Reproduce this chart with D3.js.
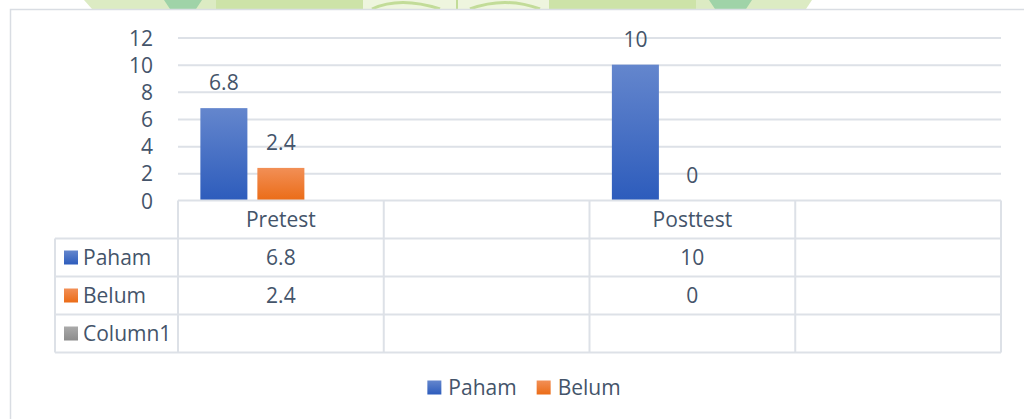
<!DOCTYPE html>
<html>
<head>
<meta charset="utf-8">
<script src="https://cdn.jsdelivr.net/npm/d3@7"></script>
<style>
  html, body { margin: 0; padding: 0; background: #fff; overflow: hidden; }
  svg { display: block; }
</style>
</head>
<body>
<svg id="chart" width="1024" height="419"></svg>
<script>
// data
var categories = ["Pretest", "", "Posttest", ""];
var seriesNames = ["Paham", "Belum", "Column1"];
var paham = [6.8, null, 10, null];
var belum = [2.4, null, 0, null];
var column1 = [null, null, null, null];
var yTicks = [0, 2, 4, 6, 8, 10, 12];

var seriesValues = [paham, belum, column1];
var colors = {
  Paham: ["#6486cd", "#2d5cbc"],
  Belum: ["#f28f56", "#eb6c17"],
  Column1: ["#aaaaaa", "#8c8c8c"]
};
var textColor = "#44546a";
var lineColor = "#dde1e7";
var font = "'Open Sans', 'Noto Sans', sans-serif";
var fontSize = 21;

var svg = d3.select("#chart");

// faint watermark peeking above the chart frame
var wm = svg.append("g");
wm.append("polygon").attr("points", "84,0 812,0 806,9 92,9").style("fill", "#dcebc3");
wm.append("rect").attr("x", 216).attr("y", 0).attr("width", 147).attr("height", 9).style("fill", "#cde3a8");
wm.append("rect").attr("x", 549).attr("y", 0).attr("width", 147).attr("height", 9).style("fill", "#cde3a8");
wm.append("rect").attr("x", 363).attr("y", 0).attr("width", 186).attr("height", 9).style("fill", "#eef5de");
wm.append("path").attr("d", "M372,9 Q400,-4 440,9 M470,9 Q505,-4 540,9").style("fill", "none").style("stroke", "#c2dc98").style("stroke-width", 3);
wm.append("rect").attr("x", 456).attr("y", 0).attr("width", 2).attr("height", 9).style("fill", "#c2dc98");
wm.append("polygon").attr("points", "164,0 202,0 196,9 170,9").style("fill", "#9fd3a8");
wm.append("polygon").attr("points", "709,0 752,0 746,9 715,9").style("fill", "#9fd3a8");

// chart frame
svg.append("rect")
  .attr("x", 10.5).attr("y", 9.5)
  .attr("width", 1030).attr("height", 430)
  .style("fill", "#fff").style("stroke", "#d9dde3").style("stroke-width", 1.5);

// gradients
var defs = svg.append("defs");
seriesNames.forEach(function(name) {
  var g = defs.append("linearGradient").attr("id", "grad-" + name)
    .attr("x1", 0).attr("y1", 0).attr("x2", 0).attr("y2", 1);
  g.append("stop").attr("offset", "0%").attr("stop-color", colors[name][0]);
  g.append("stop").attr("offset", "100%").attr("stop-color", colors[name][1]);
});

var plotLeft = 178, plotRight = 1001, plotTop = 37.5, plotBottom = 200.5;

var x0 = d3.scaleBand().domain(d3.range(categories.length)).range([plotLeft, plotRight]).padding(0);
var groupW = x0.bandwidth() * 0.7825;
var x1 = d3.scaleBand().domain(seriesNames)
  .range([(x0.bandwidth() - groupW) / 2, (x0.bandwidth() + groupW) / 2])
  .paddingInner(0.175).paddingOuter(0);
var y = d3.scaleLinear().domain([0, 12]).range([plotBottom, plotTop]);

// gridlines
svg.append("g")
  .attr("transform", "translate(" + plotLeft + ",0)")
  .call(d3.axisLeft(y).tickValues(yTicks.slice(1)).tickSize(-(plotRight - plotLeft)).tickFormat(""))
  .call(function(g) {
    g.select(".domain").remove();
    g.selectAll("line").style("stroke", lineColor).style("stroke-width", 2);
  });

// y axis labels
svg.append("g")
  .attr("transform", "translate(" + plotLeft + ",0)")
  .call(d3.axisLeft(y).tickValues(yTicks).tickSize(0).tickPadding(25))
  .call(function(g) {
    g.select(".domain").remove();
    g.selectAll("text")
      .style("font-family", font).style("font-size", fontSize + "px").style("fill", textColor)
      .attr("dy", "0.36em");
  });

// bars
var barData = [];
seriesNames.forEach(function(name, si) {
  seriesValues[si].forEach(function(v, ci) {
    if (v !== null) barData.push({ series: name, cat: ci, value: v });
  });
});

svg.append("g").selectAll("rect")
  .data(barData)
  .join("rect")
  .attr("x", function(d) { return x0(d.cat) + x1(d.series); })
  .attr("y", function(d) { return y(d.value); })
  .attr("width", x1.bandwidth())
  .attr("height", function(d) { return y(0) - y(d.value); })
  .style("fill", function(d) { return "url(#grad-" + d.series + ")"; });

svg.append("g").selectAll("text")
  .data(barData)
  .join("text")
  .attr("x", function(d) { return x0(d.cat) + x1(d.series) + x1.bandwidth() / 2; })
  .attr("y", function(d) { return y(d.value) - 18; })
  .style("text-anchor", "middle")
  .style("font-family", font).style("font-size", fontSize + "px").style("fill", textColor)
  .text(function(d) { return d.value; });

// data table
var rowH = 38;
var tableTop = plotBottom;
var tableLeft = 55;
var rows = 1 + seriesNames.length;
var tableBottom = tableTop + rows * rowH;
var table = svg.append("g");

// horizontal lines
d3.range(rows + 1).forEach(function(i) {
  var yy = tableTop + i * rowH;
  table.append("line")
    .attr("x1", i === 0 ? plotLeft : tableLeft).attr("x2", plotRight)
    .attr("y1", yy).attr("y2", yy)
    .style("stroke", lineColor).style("stroke-width", 2);
});
// vertical lines
table.append("line")
  .attr("x1", tableLeft).attr("x2", tableLeft)
  .attr("y1", tableTop + rowH).attr("y2", tableBottom)
  .style("stroke", lineColor).style("stroke-width", 2);
d3.range(categories.length + 1).forEach(function(i) {
  var xx = plotLeft + i * x0.step();
  table.append("line")
    .attr("x1", xx).attr("x2", xx)
    .attr("y1", tableTop).attr("y2", tableBottom)
    .style("stroke", lineColor).style("stroke-width", 2);
});

function cellText(x, rowIdx, txt, anchor) {
  table.append("text")
    .attr("x", x)
    .attr("y", tableTop + rowIdx * rowH + rowH / 2 + 7.5)
    .style("text-anchor", anchor)
    .style("font-family", font).style("font-size", fontSize + "px").style("fill", textColor)
    .text(txt);
}

categories.forEach(function(c, ci) {
  cellText(x0(ci) + x0.bandwidth() / 2, 0, c, "middle");
});
seriesNames.forEach(function(name, si) {
  var rowIdx = si + 1;
  var cy = tableTop + rowIdx * rowH + rowH / 2;
  table.append("rect")
    .attr("x", 64).attr("y", cy - 7).attr("width", 14).attr("height", 14)
    .style("fill", "url(#grad-" + name + ")");
  cellText(83, rowIdx, name, "start");
  seriesValues[si].forEach(function(v, ci) {
    if (v !== null) cellText(x0(ci) + x0.bandwidth() / 2, rowIdx, v, "middle");
  });
});

// bottom legend
var legendNames = ["Paham", "Belum"];
var legend = svg.append("g");
var lx = 0;
legendNames.forEach(function(name, i) {
  var item = legend.append("g").attr("transform", "translate(" + lx + ",0)");
  item.append("rect").attr("x", 0).attr("y", -14).attr("width", 14).attr("height", 14)
    .style("fill", "url(#grad-" + name + ")");
  var t = item.append("text").attr("x", 21).attr("y", 0)
    .style("font-family", font).style("font-size", fontSize + "px").style("fill", textColor)
    .text(name);
  lx += 21 + t.node().getComputedTextLength() + 20;
});
var legendW = lx - 20;
legend.attr("transform", "translate(" + (524 - legendW / 2) + ",394.5)");
</script>
</body>
</html>
